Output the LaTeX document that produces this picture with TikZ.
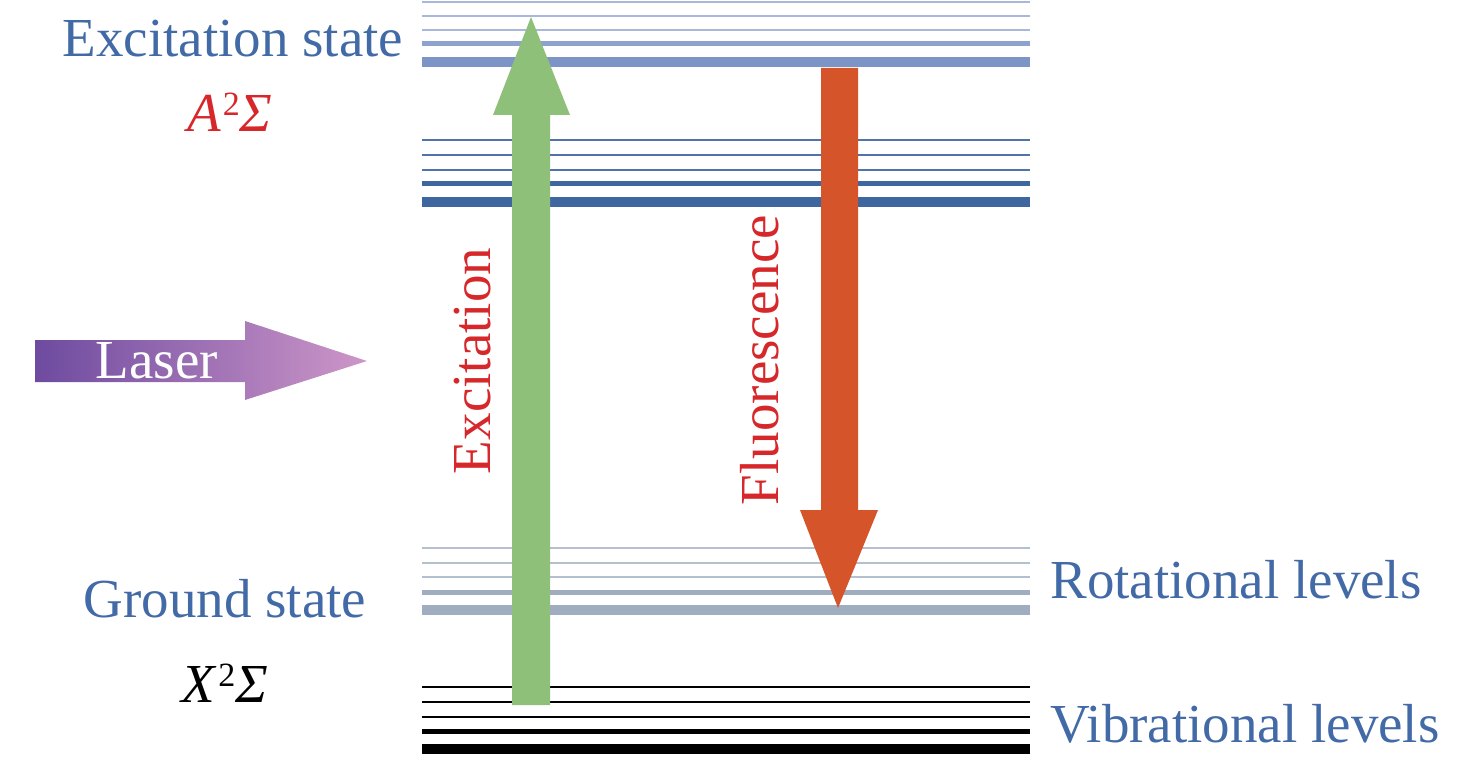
\documentclass[tikz,border=0pt]{standalone}
\usepackage{fontspec}
\setmainfont{Liberation Serif}
\definecolor{txtblue}{RGB}{66,106,166}
\definecolor{txtred}{RGB}{214,40,42}
\definecolor{excgreen}{RGB}{143,192,122}
\definecolor{fluored}{RGB}{214,84,42}
\definecolor{upthin}{RGB}{168,184,220}
\definecolor{upmid}{RGB}{142,162,207}
\definecolor{upthick}{RGB}{125,149,198}
\definecolor{lowthin}{RGB}{80,115,170}
\definecolor{lowthick}{RGB}{62,103,160}
\definecolor{rotthin}{RGB}{180,191,207}
\definecolor{rotthick}{RGB}{160,172,191}
\definecolor{lasera}{RGB}{110,75,160}
\definecolor{laserb}{RGB}{152,168,215}
\definecolor{laserc}{RGB}{205,150,200}
\begin{document}
\begin{tikzpicture}[x=0.5pt,y=-0.5pt,font=\fontsize{27.5}{33}\selectfont,
	lbl/.style={anchor=base,inner sep=0pt,text=txtblue},
	lvl/.style={line width=#1}]
	\useasboundingbox (0,0) rectangle (1476,759);
	
	% levels: y / width / colour
	\foreach \y/\w/\c in {2/1pt/upthin,16/1pt/upthin,30/1pt/upthin,44/2.5pt/upmid,62/5pt/upthick,
		140/1pt/lowthin,155/1pt/lowthin,170/1pt/lowthin,184/2.5pt/lowthick,202/5pt/lowthick,
		548/1pt/rotthin,563/1pt/rotthin,577/1pt/rotthin,592/2.5pt/rotthick,610/5pt/rotthick,
		687/0.8pt/black,702/1pt/black,717/1pt/black,731/2.5pt/black,749/5pt/black}
		\draw[lvl=\w,\c] (422,\y) -- (1030,\y);
	
	\coordinate (gtip) at (531,17); \coordinate (rtip) at (838,608); \coordinate (ltip) at (367,361);
	\fill[excgreen] (512,705) -- (512,115) -- (493,115) -- (gtip) -- (570,115) -- (550,115) -- (550,705) -- cycle;
	\fill[fluored] (821,68) -- (858,68) -- (858,510) -- (878,510) -- (rtip) -- (800,510) -- (821,510) -- cycle;
	\shade[left color=lasera,middle color=laserb,right color=laserc] (35,340) -- (245,340) -- (245,321) -- (ltip) -- (245,400) -- (245,382) -- (35,382) -- cycle;
	
	\node[lbl,text=white] (laser) at (157,378) {Laser};
	\node[lbl] (exc) at (233,57) {Excitation state};
	\node[lbl,text=txtred] (aterm) at (230,132) {{\itshape A}\kern1pt\raisebox{8pt}{\fontsize{17}{17}\selectfont 2}{\itshape Σ}};
	\node[lbl] (gnd) at (225,617) {Ground state};
	\node[lbl,text=black] (xterm) at (225,702) {{\itshape X}\kern1.5pt\raisebox{8pt}{\fontsize{17}{17}\selectfont 2}{\itshape Σ}};
	\node[lbl,anchor=base west] (rot) at (1050,598) {Rotational levels};
	\node[lbl,anchor=base west] (vib) at (1050,742) {Vibrational levels};
	\node[lbl,text=txtred,rotate=90] (excup) at (490,361) {Excitation};
	\node[lbl,text=txtred,rotate=90] (fluo) at (778,360) {Fluorescence};
\end{tikzpicture}
\end{document}
